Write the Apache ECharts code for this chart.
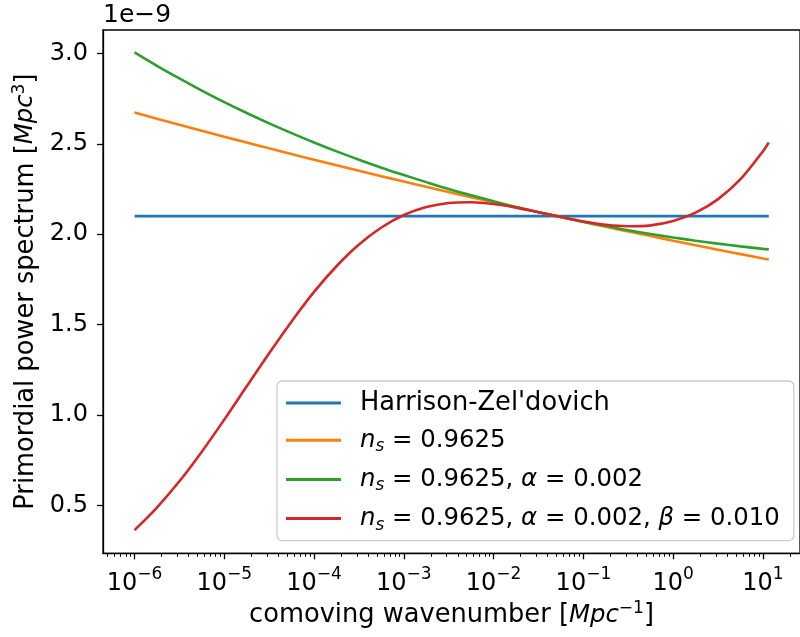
<!DOCTYPE html>
<html>
<head>
<meta charset="utf-8">
<script src="https://cdn.jsdelivr.net/npm/echarts@6/dist/echarts.min.js"></script>
<style>
    html, body { margin: 0; padding: 0; background: #fff; }
    #chart { width: 800px; height: 637px; }
</style>
</head>
<body>
<div id="chart"></div>
<script>

// Data (y values in units of 1e-9 Mpc^3), quarter decades in k
// -----------------------------

var kValues = [1e-6, 1.778e-6, 3.162e-6, 5.623e-6,
               1e-5, 1.778e-5, 3.162e-5, 5.623e-5,
               1e-4, 1.778e-4, 3.162e-4, 5.623e-4,
               1e-3, 1.778e-3, 3.162e-3, 5.623e-3,
               1e-2, 1.778e-2, 3.162e-2, 5.623e-2,
               1e-1, 1.778e-1, 3.162e-1, 5.623e-1,
               1, 1.778, 3.162, 5.623, 10, 11.6];

var hzValues = [2.1, 2.1, 2.1, 2.1, 2.1, 2.1, 2.1, 2.1, 2.1, 2.1,
                2.1, 2.1, 2.1, 2.1, 2.1, 2.1, 2.1, 2.1, 2.1, 2.1,
                2.1, 2.1, 2.1, 2.1, 2.1, 2.1, 2.1, 2.1, 2.1, 2.1];

var nsValues = [2.673, 2.639, 2.605, 2.572, 2.539, 2.507, 2.475, 2.443, 2.412, 2.381,
                2.351, 2.321, 2.291, 2.262, 2.233, 2.205, 2.177, 2.149, 2.122, 2.094,
                2.068, 2.041, 2.015, 1.990, 1.964, 1.939, 1.914, 1.890, 1.866, 1.860];

var alphaValues = [3.005, 2.931, 2.861, 2.794, 2.730, 2.670, 2.613, 2.559, 2.507, 2.458,
                   2.412, 2.368, 2.327, 2.288, 2.250, 2.215, 2.182, 2.151, 2.122, 2.095,
                   2.069, 2.045, 2.022, 2.001, 1.982, 1.964, 1.948, 1.933, 1.919, 1.916];

var betaValues = [0.364, 0.489, 0.634, 0.798, 0.975, 1.159, 1.342, 1.518, 1.681, 1.823,
                  1.943, 2.037, 2.106, 2.150, 2.173, 2.177, 2.167, 2.147, 2.122, 2.095,
                  2.070, 2.052, 2.044, 2.049, 2.073, 2.119, 2.194, 2.304, 2.459, 2.507];

var seriesNames = ["Harrison-Zel'dovich", 'ns', 'ns_alpha', 'ns_alpha_beta'];

var xTicks = [1e-6, 1e-5, 1e-4, 1e-3, 1e-2, 1e-1, 1, 10];
var yTicks = [0.5, 1.0, 1.5, 2.0, 2.5, 3.0];


// Setup
// -----------------------------

var FONT = 'DejaVu Sans';
var colors = ['#1f77b4', '#ff7f0e', '#2ca02c', '#d62728'];

var X_MIN = Math.pow(10, -6.3506);
var X_MAX = Math.pow(10, 1.4121);

// minor log ticks 2..9 per decade
var minorTicks = [];
for (var d = -7; d <= 1; d++) {
    for (var m = 2; m <= 9; m++) {
        var v = m * Math.pow(10, d);
        if (v >= X_MIN && v <= X_MAX) minorTicks.push(v);
    }
}

var legendLabels = {
    "Harrison-Zel'dovich": "{r|Harrison-Zel'dovich}",
    'ns': '{i|n}{sub|s}{m| = 0.9625}',
    'ns_alpha': '{i|n}{sub|s}{m| = 0.9625, }{i|α}{m| = 0.002}',
    'ns_alpha_beta': '{i|n}{sub|s}{m| = 0.9625, }{i|α}{m| = 0.002, }{i|β}{m| = 0.010}'
};

var mathRich = {
    r: { fontFamily: FONT, fontSize: 25.7, color: '#000', lineHeight: 30 },
    m: { fontFamily: FONT, fontSize: 24.4, color: '#000', lineHeight: 30 },
    i: { fontFamily: FONT, fontSize: 24.4, color: '#000', fontStyle: 'italic', lineHeight: 30 },
    sub: { fontFamily: FONT, fontSize: 17, color: '#000', fontStyle: 'italic', lineHeight: 18, verticalAlign: 'bottom' },
    sup: { fontFamily: FONT, fontSize: 17, color: '#000', lineHeight: 17, verticalAlign: 'top' }
};

function pairs(ys) {
    return kValues.map(function (k, i) { return [k, ys[i]]; });
}

var allValues = [hzValues, nsValues, alphaValues, betaValues];

var chart = echarts.init(document.getElementById('chart'), null, { renderer: 'canvas' });

chart.setOption({
    animation: false,
    color: colors,
    textStyle: { fontFamily: FONT },

    grid: {
        left: 103,
        top: 30,
        width: 704,
        height: 523.3,
        show: true,
        borderColor: '#000',
        borderWidth: 1.3,
        backgroundColor: 'transparent'
    },

    graphic: [{
        type: 'text',
        left: 103,
        top: 3,
        style: { text: '1e\u22129', font: '25px "DejaVu Sans"', fill: '#000' }
    }],

    legend: {
        data: seriesNames,
        orient: 'vertical',
        left: 277,
        top: 381,
        padding: [9, 14, 7, 9],
        itemWidth: 55,
        itemHeight: 3,
        itemGap: 12.2,
        icon: 'rect',
        backgroundColor: 'rgba(255,255,255,0.8)',
        borderColor: '#cccccc',
        borderWidth: 1.3,
        borderRadius: 5,
        formatter: function (name) { return legendLabels[name]; },
        textStyle: {
            fontFamily: FONT,
            fontSize: 24,
            color: '#000',
            padding: [0, 0, 0, 14],
            rich: mathRich
        }
    },

    xAxis: [{
        type: 'log',
        min: X_MIN,
        max: X_MAX,
        position: 'bottom',
        name: '{r|comoving wavenumber [}{i|Mpc}{sup|\u22121}{r|]}',
        nameLocation: 'middle',
        nameGap: 44,
        nameTextStyle: { rich: mathRich },
        axisLine: { show: true, onZero: false, lineStyle: { color: '#000', width: 1.3 } },
        axisTick: { show: true, length: 6, customValues: xTicks, lineStyle: { color: '#000', width: 1.3 } },
        axisLabel: {
            customValues: xTicks,
            margin: 13,
            formatter: function (value) {
                var n = Math.round(Math.log10(value));
                return '{b|10}{s|' + (n < 0 ? '\u2212' + (-n) : n) + '}';
            },
            rich: {
                b: { fontFamily: FONT, fontSize: 24, color: '#000', lineHeight: 34 },
                s: { fontFamily: FONT, fontSize: 17, color: '#000', lineHeight: 17, verticalAlign: 'top' }
            }
        },
        splitLine: { show: false }
    }, {
        type: 'log',
        min: X_MIN,
        max: X_MAX,
        position: 'bottom',
        axisLine: { show: false },
        axisTick: { show: true, length: 3.5, customValues: minorTicks, lineStyle: { color: '#000', width: 1 } },
        axisLabel: { show: false },
        splitLine: { show: false }
    }],

    yAxis: {
        type: 'value',
        min: 0.236,
        max: 3.129,
        name: '{r|Primordial power spectrum [}{i|Mpc}{sup|3}{r|]}',
        nameLocation: 'middle',
        nameRotate: 90,
        nameGap: 57,
        nameTextStyle: { rich: mathRich },
        axisLine: { show: true, lineStyle: { color: '#000', width: 1.3 } },
        axisTick: { show: true, length: 6, customValues: yTicks, lineStyle: { color: '#000', width: 1.3 } },
        axisLabel: {
            customValues: yTicks,
            margin: 15,
            fontFamily: FONT,
            fontSize: 24,
            color: '#000',
            formatter: function (v) { return v.toFixed(1); }
        },
        splitLine: { show: false }
    },

    series: seriesNames.map(function (name, i) {
        return {
            name: name,
            type: 'line',
            xAxisIndex: 0,
            data: pairs(allValues[i]),
            smooth: 0.3,
            symbol: 'none',
            showSymbol: false,
            lineStyle: { width: 2.6, color: colors[i] },
            z: 2 + i
        };
    })
});

</script>
</body>
</html>
